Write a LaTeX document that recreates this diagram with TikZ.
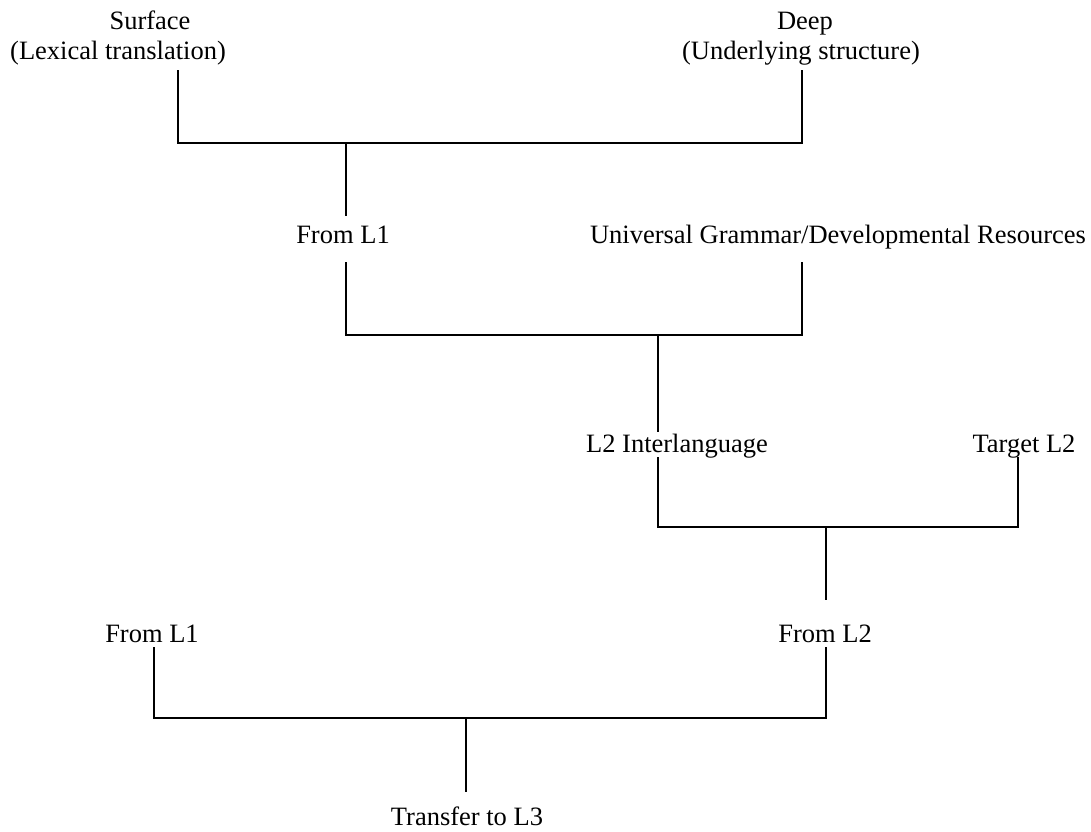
\documentclass[tikz,border=0pt]{standalone}
\usepackage{fontspec}
\setmainfont{Liberation Serif}
\begin{document}
\begin{tikzpicture}[x=1pt,y=-1pt,
  lbl/.style={anchor=base,inner sep=0pt,font=\fontsize{26.5}{30}\selectfont},
  link/.style={line width=1.8pt}]
\useasboundingbox (0,0) rectangle (1091,831);

% labels
\node[lbl] (surf)    at (150,29)  {Surface};
\node[lbl] (surfsub) at (118,59)  {(Lexical translation)};
\node[lbl] (deep)    at (805,29)  {Deep};
\node[lbl] (deepsub) at (801,59)  {(Underlying structure)};
\node[lbl] (fromA)   at (343,243) {From L1};
\node[lbl] (ug)      at (838,243) {Universal Grammar/Developmental Resources};
\node[lbl] (il)      at (677,452) {L2 Interlanguage};
\node[lbl] (tl2)     at (1024,452) {Target L2};
\node[lbl] (fromB)   at (152,642) {From L1};
\node[lbl] (fromC)   at (825,642) {From L2};
\node[lbl] (tl3)     at (467,825) {Transfer to L3};

% bracket end points
\coordinate (sTop) at (178,70);
\coordinate (dTop) at (802,70);
\coordinate (j1)   at (346,143);
\coordinate (j1e)  at (346,216);
\coordinate (fTop) at (346,262);
\coordinate (uTop) at (802,262);
\coordinate (j2)   at (658,335);
\coordinate (j2e)  at (658,432);
\coordinate (iTop) at (658,457);
\coordinate (tTop) at (1018,457);
\coordinate (j3)   at (826,527);
\coordinate (j3e)  at (826,600);
\coordinate (bTop) at (154,647);
\coordinate (cTop) at (826,647);
\coordinate (j4)   at (466,718);
\coordinate (j4e)  at (466,792);

% brackets
\draw[link] (sTop) |- (j1) -| (dTop);
\draw[link] (j1) -- (j1e);
\draw[link] (fTop) |- (j2) -| (uTop);
\draw[link] (j2) -- (j2e);
\draw[link] (iTop) |- (j3) -| (tTop);
\draw[link] (j3) -- (j3e);
\draw[link] (bTop) |- (j4) -| (cTop);
\draw[link] (j4) -- (j4e);
\end{tikzpicture}
\end{document}
